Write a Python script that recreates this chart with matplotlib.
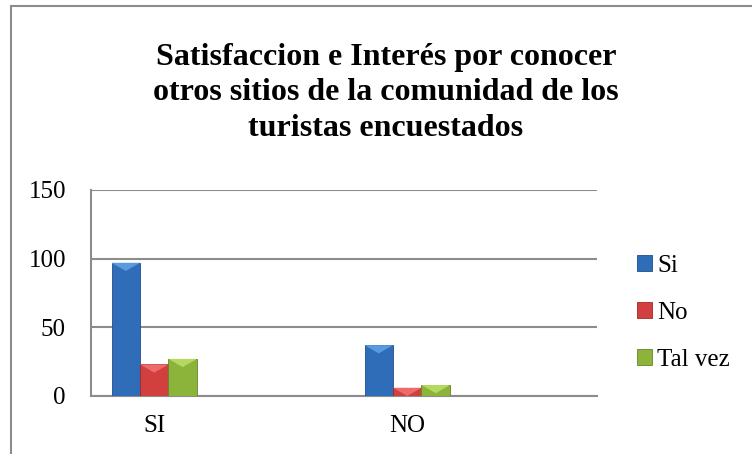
import numpy as np
import matplotlib
matplotlib.use('Agg')
import matplotlib.pyplot as plt
from matplotlib.patches import Rectangle, Polygon

plt.rcParams['font.family'] = 'serif'
plt.rcParams['font.serif'] = ['Liberation Serif', 'DejaVu Serif']

categories = ['SI', '', 'NO', '']
series = ['Si', 'No', 'Tal vez']
si_vals = [97, 0, 37, 0]
no_vals = [23, 0, 6, 0]
talvez_vals = [27, 0, 8, 0]
colors = ['#2f6db8', '#d23f3f', '#8db43a']
lights = ['#5a9be0', '#ee6b6b', '#b4d860']
edges = ['#1f4f8a', '#9c2a2a', '#64852a']

fig = plt.figure(figsize=(7.52, 4.54), dpi=100)

# chart frame (cropped on right and bottom in the reference)
fig.add_artist(Rectangle((10.5 / 752, -0.1), 1.2, (454 - 6.5) / 454 + 0.1,
                         transform=fig.transFigure, fill=False,
                         edgecolor='#8c8c8c', linewidth=1.5))

fig.text(386 / 752, 1 - 93 / 454,
         'Satisfaccion e Interés por conocer\notros sitios de la comunidad de los\nturistas encuestados',
         ha='center', va='center', fontsize=23, fontweight='bold', linespacing=1.3)

ax = fig.add_axes([91 / 752, 1 - 396 / 454, 506 / 752, 206 / 454])

x = np.arange(len(categories))
w = 0.225
data = [si_vals, no_vals, talvez_vals]
for i, (vals, name) in enumerate(zip(data, series)):
    bars = ax.bar(x + (i - 1) * w, vals, w, color=colors[i], edgecolor=edges[i],
                  linewidth=0.6, label=name, zorder=3)
    # light bevel on top of each bar
    for b in bars:
        h = b.get_height()
        if h <= 0:
            continue
        x0, bw = b.get_x(), b.get_width()
        d = min(6, h)
        ax.add_patch(Polygon([[x0, h], [x0 + bw, h], [x0 + bw * 0.5, h - d]],
                             closed=True, color=lights[i], lw=0, zorder=4))

ax.set_xlim(-0.5, len(categories) - 0.5)
ax.set_ylim(0, 150)
ax.set_yticks([0, 50, 100, 150])
ax.set_xticks(x)
ax.set_xticklabels(categories)
ax.tick_params(axis='both', length=0, labelsize=18, colors='black')
ax.tick_params(axis='y', pad=18)
ax.tick_params(axis='x', pad=14)
ax.yaxis.grid(True, color='#8c8c8c', linewidth=1.5, zorder=0)
ax.set_axisbelow(True)
for s in ['top', 'right']:
    ax.spines[s].set_visible(False)
for s in ['left', 'bottom']:
    ax.spines[s].set_color('#8c8c8c')
    ax.spines[s].set_linewidth(1.5)

ax.legend(loc='center left', bbox_to_anchor=(1.055, 0.405), frameon=False,
          fontsize=18, handlelength=0.6, handleheight=0.6, handletextpad=0.2,
          labelspacing=1.0, borderpad=0)

fig.savefig('out.png', dpi=100)
